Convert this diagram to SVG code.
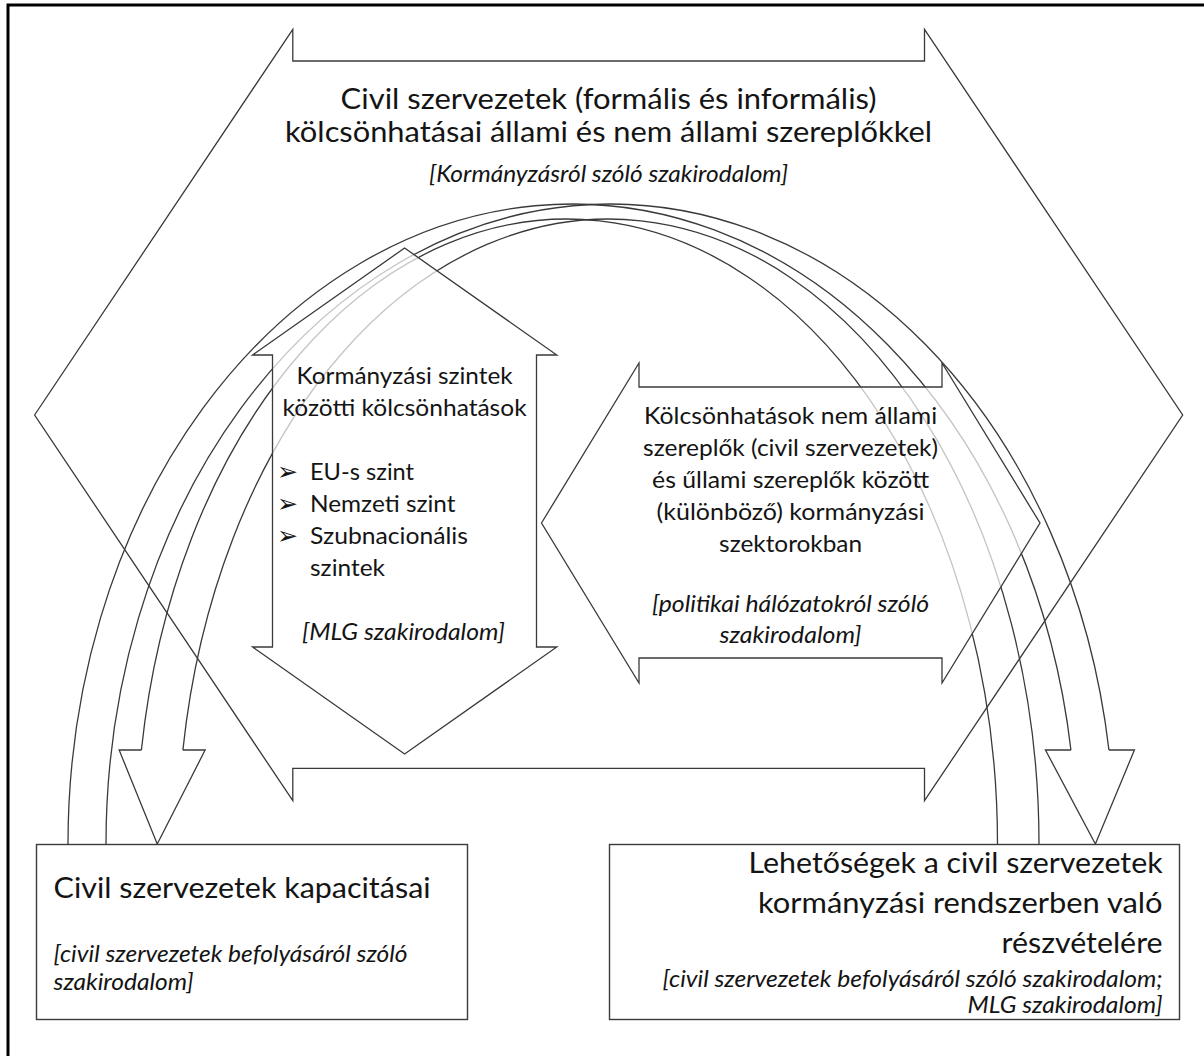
<svg xmlns="http://www.w3.org/2000/svg" width="1204" height="1056" viewBox="0 0 1204 1056">
<style>
.ln{fill:none;stroke:#3a3a3a;stroke-width:1.3;stroke-linejoin:miter}
.veil{fill:#fff;fill-opacity:0.7;stroke:#3a3a3a;stroke-width:1.3}
.box{fill:#fff;stroke:#3a3a3a;stroke-width:1.4}
.t{font-family:Lato,"Open Sans","DejaVu Sans",sans-serif;fill:#141414}
.big{font-size:28.5px}
.n{font-size:24px}
.i{font-size:24px;font-style:italic}
.c{text-anchor:middle}
.e{text-anchor:end}
.bul{font-family:"DejaVu Sans",sans-serif;font-size:25px;fill:#141414}
</style>
<rect width="1204" height="1056" fill="#fff"/>
<path d="M8 1056 L8 5 L1204 5" fill="none" stroke="#000" stroke-width="3"/>

<g id="node-interactions">
<polygon class="ln" points="34.6,415 292.8,29.3 292.8,61 924.5,61 924.5,29.3 1182.7,415 924.5,800.7 924.5,768.3 292.8,768.3 292.8,800.7"/>
<text class="t big c" x="608.6" y="108.5" textLength="536" lengthAdjust="spacingAndGlyphs">Civil szervezetek (formális és informális)</text>
<text class="t big c" x="608.6" y="141.5" textLength="647" lengthAdjust="spacingAndGlyphs">kölcsönhatásai állami és nem állami szereplőkkel</text>
<text class="t i c" x="608.6" y="182" textLength="359" lengthAdjust="spacingAndGlyphs">[Kormányzásról szóló szakirodalom]</text>
</g>

<g id="connectors">
<g id="arrow-capacities-to-opportunities">
<path class="ln" d="M68 844 A504.2 640 0 0 1 1070.93 750"/>
<path class="ln" d="M106 844 A504.2 640 0 0 1 1108.93 750"/>
<path class="ln" d="M1108.93 750 L1134.43 750 L1095.4 844 L1045.43 750 L1070.93 750"/>
</g>
<g id="arrow-opportunities-to-capacities">
<path class="ln" d="M1039 844 A430.5 625 0 0 0 182.9 750"/>
<path class="ln" d="M997.5 844 A430.5 625 0 0 0 141.4 750"/>
<path class="ln" d="M141.4 750 L119.15 750 L157.25 844 L205.15 750 L182.9 750"/>
</g>
</g>

<g id="node-levels">
<polygon class="veil" points="404.6,248 556.8,355 536.5,355 536.5,647 556.8,647 404.6,754 252.6,647 272.5,647 272.5,355 252.6,355"/>
<text class="t n c" x="404.6" y="384" textLength="216" lengthAdjust="spacingAndGlyphs">Kormányzási szintek</text>
<text class="t n c" x="404.6" y="416" textLength="244" lengthAdjust="spacingAndGlyphs">közötti kölcsönhatások</text>
<text class="bul" x="277" y="480">➢</text>
<text class="bul" x="277" y="512">➢</text>
<text class="bul" x="277" y="544">➢</text>
<text class="t n" x="310" y="480" textLength="104" lengthAdjust="spacingAndGlyphs">EU-s szint</text>
<text class="t n" x="310" y="512" textLength="145.5" lengthAdjust="spacingAndGlyphs">Nemzeti szint</text>
<text class="t n" x="310" y="544" textLength="158" lengthAdjust="spacingAndGlyphs">Szubnacionális</text>
<text class="t n" x="310" y="576" textLength="75" lengthAdjust="spacingAndGlyphs">szintek</text>
<text class="t i c" x="403.5" y="640" textLength="203" lengthAdjust="spacingAndGlyphs">[MLG szakirodalom]</text>
</g>

<g id="node-sectors">
<polygon class="veil" points="541.5,523 639,363 639,387 942,387 942,363 1040,523 942,683 942,658 639,658 639,683"/>
<text class="t n c" x="790.6" y="424" textLength="293" lengthAdjust="spacingAndGlyphs">Kölcsönhatások nem állami</text>
<text class="t n c" x="790.6" y="456" textLength="295" lengthAdjust="spacingAndGlyphs">szereplők (civil szervezetek)</text>
<text class="t n c" x="790.6" y="488" textLength="277" lengthAdjust="spacingAndGlyphs">és űllami szereplők között</text>
<text class="t n c" x="790.6" y="520" textLength="268" lengthAdjust="spacingAndGlyphs">(különböző) kormányzási</text>
<text class="t n c" x="790.6" y="552" textLength="143" lengthAdjust="spacingAndGlyphs">szektorokban</text>
<text class="t i c" x="790.6" y="612" textLength="277" lengthAdjust="spacingAndGlyphs">[politikai hálózatokról szóló</text>
<text class="t i c" x="790.6" y="643" textLength="142" lengthAdjust="spacingAndGlyphs">szakirodalom]</text>
</g>

<g id="node-capacities">
<rect class="box" x="36.5" y="844.5" width="431" height="175"/>
<text class="t big" x="53.6" y="898" textLength="377" lengthAdjust="spacingAndGlyphs">Civil szervezetek kapacitásai</text>
<text class="t i" x="53.6" y="962" textLength="354" lengthAdjust="spacingAndGlyphs">[civil szervezetek befolyásáról szóló</text>
<text class="t i" x="53.6" y="990" textLength="140" lengthAdjust="spacingAndGlyphs">szakirodalom]</text>
</g>

<g id="node-opportunities">
<rect class="box" x="609.5" y="844.5" width="570" height="175"/>
<text class="t big e" x="1162.6" y="873" textLength="414" lengthAdjust="spacingAndGlyphs">Lehetőségek a civil szervezetek</text>
<text class="t big e" x="1162.6" y="913" textLength="404.6" lengthAdjust="spacingAndGlyphs">kormányzási rendszerben való</text>
<text class="t big e" x="1162.6" y="953" textLength="161" lengthAdjust="spacingAndGlyphs">részvételére</text>
<text class="t i e" x="1162.6" y="987" textLength="500" lengthAdjust="spacingAndGlyphs">[civil szervezetek befolyásáról szóló szakirodalom;</text>
<text class="t i e" x="1162.6" y="1013" textLength="195" lengthAdjust="spacingAndGlyphs">MLG szakirodalom]</text>
</g>
</svg>
